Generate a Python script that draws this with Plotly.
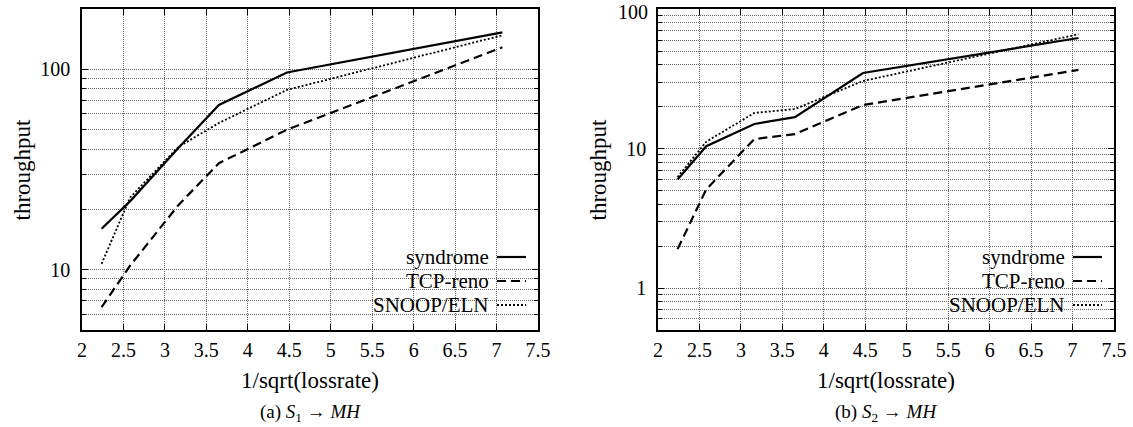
import plotly.graph_objects as go
import math

# ---------------- data ----------------
x_vals = [2.236, 2.582, 3.162, 3.651, 4.472, 7.071]

syndrome_a = [16.0, 22.0, 40.5, 66.5, 96.5, 153]
tcp_reno_a = [6.5, 10.5, 21.0, 34.0, 50.0, 129]
snoop_eln_a = [10.7, 23.0, 41.0, 54.0, 79.0, 148]

syndrome_b = [6.0, 10.4, 15.0, 16.8, 34.8, 62]
tcp_reno_b = [1.9, 5.1, 11.7, 12.7, 20.5, 36.6]
snoop_eln_b = [6.25, 11.2, 18.0, 19.2, 30.5, 66]

series_names = ["syndrome", "TCP-reno", "SNOOP/ELN"]
x_tick_vals = [2, 2.5, 3, 3.5, 4, 4.5, 5, 5.5, 6, 6.5, 7, 7.5]
x_tick_text = ["2", "2.5", "3", "3.5", "4", "4.5", "5", "5.5", "6", "6.5", "7", "7.5"]
y_tick_vals_a = [10, 100]
y_tick_text_a = ["10", "100"]
y_tick_vals_b = [1, 10, 100]
y_tick_text_b = ["1", "10", "100"]
y_range_a = [5, 200]
y_range_b = [0.5, 100]
x_title = "1/sqrt(lossrate)"
y_title = "throughput"
captions = ["(a) <i>S</i><sub>1</sub> \u2192 <i>MH</i>", "(b) <i>S</i><sub>2</sub> \u2192 <i>MH</i>"]

# ---------------- layout helpers ----------------
W, H = 1133, 427
FONT = "Liberation Serif"
def fx(p):
    return p / W
def fy(p):
    return 1 - p / H

frames = [(82, 538), (658, 1114)]
top_px, bot_px = 9, 330
styles = [dict(dash="solid", width=2.2), dict(dash="9px,5px", width=2.2), dict(dash="2px,2px", width=1.8)]

fig = go.Figure()

datasets = [
    (syndrome_a, tcp_reno_a, snoop_eln_a),
    (syndrome_b, tcp_reno_b, snoop_eln_b),
]
for i, ser in enumerate(datasets):
    xa = "x" if i == 0 else "x2"
    ya = "y" if i == 0 else "y2"
    for name, vals, st in zip(series_names, ser, styles):
        fig.add_trace(go.Scatter(
            x=x_vals, y=vals, mode="lines", name=name, showlegend=False,
            line=dict(color="black", width=st["width"], dash=st["dash"]),
            xaxis=xa, yaxis=ya))

grid_col = "#606060"
GD = "1px,1px"
def xaxis_cfg(i):
    l, r = frames[i]
    return dict(
        domain=[fx(l), fx(r)], range=[2, 7.5], tickmode="array",
        tickvals=x_tick_vals, ticktext=x_tick_text,
        ticks="inside", ticklen=6, tickcolor="black", tickwidth=1,
        showline=True, linecolor="black", linewidth=1.5, mirror="ticks",
        showgrid=True, gridcolor=grid_col, griddash=GD, gridwidth=1,
        zeroline=False, tickfont=dict(family=FONT, size=20, color="black"),
        ticklabelstandoff=1, ticklabeloverflow="allow", automargin=False,
        anchor="y" if i == 0 else "y2",
    )

def yaxis_cfg(i, rng, tv, tt):
    return dict(
        domain=[fy(bot_px), fy(top_px)], type="log",
        range=[math.log10(rng[0]), math.log10(rng[1]) + 0.0005],
        tickmode="array", tickvals=tv, ticktext=tt,
        ticks="inside", ticklen=6, tickcolor="black", tickwidth=1,
        showline=True, linecolor="black", linewidth=1.5, mirror="ticks",
        showgrid=True, gridcolor=grid_col, griddash=GD, gridwidth=1,
        minor=dict(dtick="D1", ticks="inside", ticklen=4, tickcolor="black",
                   showgrid=True, gridcolor=grid_col, griddash=GD, gridwidth=1),
        zeroline=False, tickfont=dict(family=FONT, size=20, color="black"),
        ticklabelstandoff=6, ticklabeloverflow="allow", automargin=False,
        anchor="x" if i == 0 else "x2",
    )

# the topmost label of panel (b) sits on the frame edge; draw it slightly lower as text
tt_b = list(y_tick_text_b[:-1]) + [""]

shapes = []
annotations = []
annotations.append(dict(xref="paper", yref="paper", x=fx(frames[1][0] - 8), y=fy(12),
                        text=y_tick_text_b[-1], showarrow=False, xanchor="right", yanchor="middle",
                        font=dict(family=FONT, size=20, color="black")))
for i in range(2):
    l, r = frames[i]
    shapes.append(dict(type="rect", xref="paper", yref="paper", layer="between",
                       x0=fx(l + 281), x1=fx(r - 1), y0=fy(bot_px - 1), y1=fy(242),
                       fillcolor="white", line=dict(width=0)))
    rows = [257, 281, 305]
    for name, st, yy in zip(series_names, styles, rows):
        annotations.append(dict(xref="paper", yref="paper", x=fx(r - 47), y=fy(yy),
                                text=name, showarrow=False, xanchor="right", yanchor="middle",
                                font=dict(family=FONT, size=21, color="black")))
        shapes.append(dict(type="line", xref="paper", yref="paper", layer="above",
                           x0=fx(r - 41), x1=fx(r - 12), y0=fy(yy), y1=fy(yy),
                           line=dict(color="black", width=st["width"], dash=st["dash"])))
    cx = (l + r) / 2
    annotations.append(dict(xref="paper", yref="paper", x=fx(cx), y=fy(380), text=x_title,
                            showarrow=False, xanchor="center", yanchor="middle",
                            font=dict(family=FONT, size=23, color="black")))
    annotations.append(dict(xref="paper", yref="paper", x=fx(cx), y=fy(413), text=captions[i],
                            showarrow=False, xanchor="center", yanchor="middle",
                            font=dict(family=FONT, size=19, color="black")))
    annotations.append(dict(xref="paper", yref="paper", x=fx(l - 60), y=fy((top_px + bot_px) / 2),
                            text=y_title, textangle=-90, showarrow=False,
                            xanchor="center", yanchor="middle",
                            font=dict(family=FONT, size=23, color="black")))

fig.update_layout(
    width=W, height=H, margin=dict(l=0, r=0, t=0, b=0, autoexpand=False),
    paper_bgcolor="white", plot_bgcolor="white",
    font=dict(family=FONT, color="black"),
    xaxis=xaxis_cfg(0), xaxis2=xaxis_cfg(1),
    yaxis=yaxis_cfg(0, y_range_a, y_tick_vals_a, y_tick_text_a),
    yaxis2=yaxis_cfg(1, y_range_b, y_tick_vals_b, tt_b),
    shapes=shapes, annotations=annotations, showlegend=False,
)

fig.write_html("out.html")
